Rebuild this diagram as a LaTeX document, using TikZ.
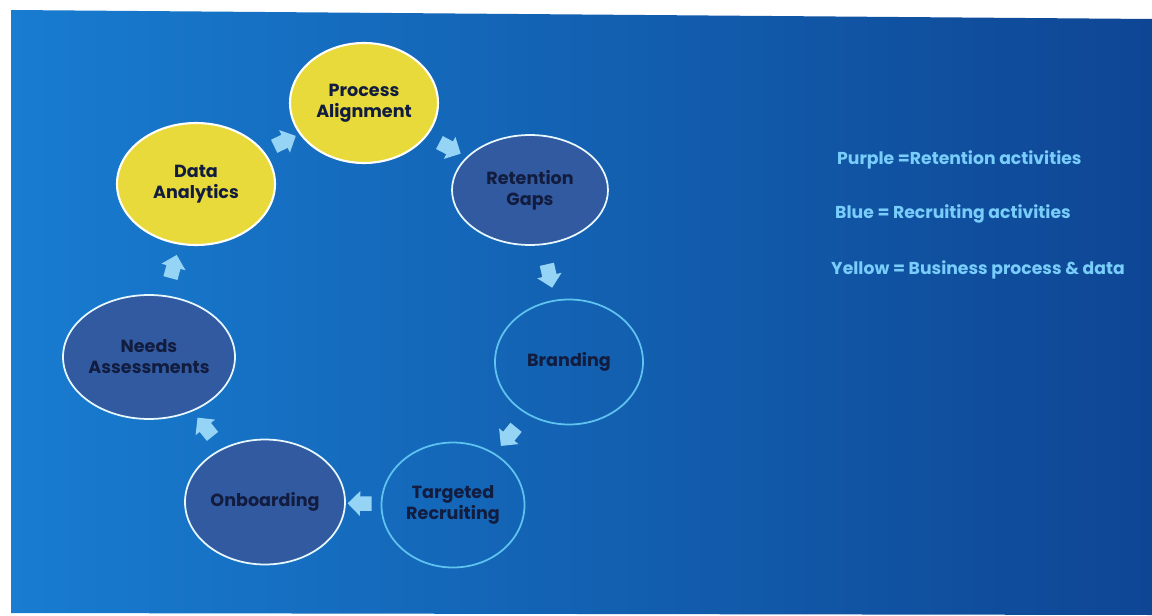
\documentclass[tikz,border=0pt]{standalone}
\usepackage{fontspec}
\setmainfont{Poppins}
\usetikzlibrary{shapes.geometric,shapes.arrows}

\definecolor{bgleft}{RGB}{24,124,208}
\definecolor{bgright}{RGB}{14,70,148}
\definecolor{yellowfill}{RGB}{232,218,58}
\definecolor{purplefill}{RGB}{50,90,160}
\definecolor{cyanline}{RGB}{95,195,240}
\definecolor{arrowfill}{RGB}{150,212,245}
\definecolor{labeltext}{RGB}{18,28,62}
\definecolor{legendtext}{RGB}{120,205,250}

\begin{document}
\begin{tikzpicture}[x=0.02cm,y=-0.02cm,
    stage/.style={ellipse, align=center, font=\bfseries\fontsize{10}{12}\selectfont, text=labeltext, inner sep=0pt},
    business/.style={stage, fill=yellowfill, draw=white, line width=1.2pt},
    retention/.style={stage, fill=purplefill, draw=white!90!cyan, line width=1pt},
    recruiting/.style={stage, draw=cyanline, line width=1pt},
    flow/.style={single arrow, fill=arrowfill, minimum height=0.48cm, minimum width=0.5cm,
        single arrow head extend=0.07cm, inner sep=0.09cm, sloped, allow upside down},
    legend/.style={anchor=west, text=legendtext, font=\bfseries\fontsize{9.8}{11}\selectfont}]

    % Page and blue backdrop
    \useasboundingbox (0,0) rectangle (1152,615);
    \fill[white] (0,0) rectangle (1152,615);
    \shade[left color=bgleft, right color=bgright] (11,10) -- (1152,19) -- (1152,615) -- (11,613) -- cycle;

    % Stages of the cycle
    \node[business, minimum width=2.96cm, minimum height=2.4cm] (pa) at (364,103) {Process\\Alignment};
    \node[business, minimum width=3.16cm, minimum height=2.44cm] (da) at (196,184) {Data\\Analytics};
    \node[retention, minimum width=3.12cm, minimum height=2.2cm] (rg) at (530,190) {Retention\\Gaps};
    \node[recruiting, minimum width=2.96cm, minimum height=2.5cm] (br) at (569,362) {Branding};
    \node[recruiting, minimum width=2.86cm, minimum height=2.5cm] (tr) at (453,505) {Targeted\\Recruiting};
    \node[retention, minimum width=3.2cm, minimum height=2.5cm] (ob) at (265,502) {Onboarding};
    \node[retention, minimum width=3.44cm, minimum height=2.48cm] (na) at (149,357) {Needs\\Assessments};

    % Arrows between the stages
    \path (da) -- node[flow] {} (pa);
    \path (pa) -- node[flow] {} (rg);
    \path (rg) -- node[flow] {} (br);
    \path (br) -- node[flow] {} (tr);
    \path (tr) -- node[flow] {} (ob);
    \path (ob) -- node[flow] {} (na);
    \path (na) -- node[flow] {} (da);

    % Colour key
    \node[legend] (keyp) at (831,160) {Purple =Retention activities};
    \node[legend] (keyb) at (829,214) {Blue = Recruiting activities};
    \node[legend] (keyy) at (825,270) {Yellow = Business process \& data};
\end{tikzpicture}
\end{document}
